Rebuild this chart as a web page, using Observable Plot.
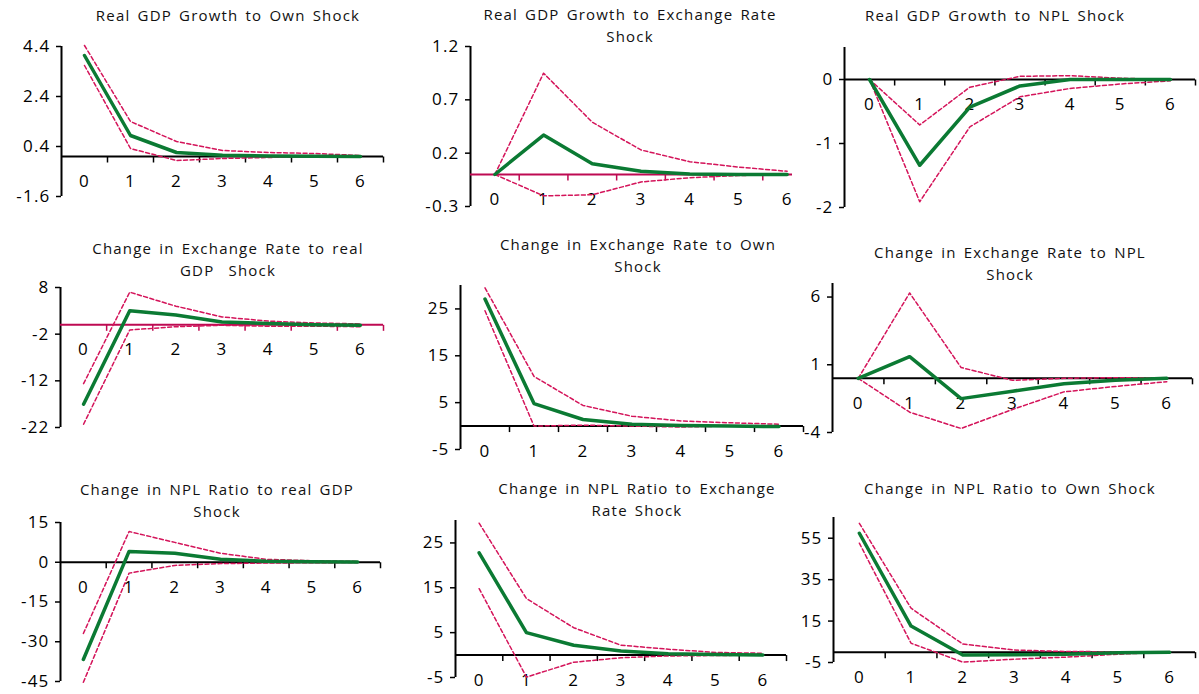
<!DOCTYPE html>
<html>
<head>
<meta charset="utf-8">
<script src="https://cdn.jsdelivr.net/npm/d3@7"></script>
<script src="https://cdn.jsdelivr.net/npm/@observablehq/plot@0.6"></script>
<style>
  html, body { margin: 0; padding: 0; background: #fff; }
  #root { position: relative; width: 1199px; height: 694px; overflow: hidden; background: #fff; font-family: "Open Sans", sans-serif; }
  .title { position: absolute; z-index: 5; text-align: center; font-size: 15px; line-height: 22px; color: #111; white-space: pre; letter-spacing: 1.2px; word-spacing: 2px; }
  .panel { position: absolute; overflow: hidden; z-index: 1; }
  .panel svg { max-width: none !important; overflow: visible; background: transparent; }
  .panel text { letter-spacing: 1.2px; }
  .panel g[aria-label*="y-axis"] path, .panel g[aria-label*="y-axis"] line { stroke-width: 1.5; }
</style>
</head>
<body>
<div id="root"></div>
<script>
// ---------- data ----------
const horizons = [0, 1, 2, 3, 4, 5, 6];
const xTickLabels = ["0", "1", "2", "3", "4", "5", "6"];

const titles = [
  "Real GDP Growth to Own Shock",
  "Real GDP Growth to Exchange Rate\nShock",
  "Real GDP Growth to NPL Shock",
  "Change in Exchange Rate to real\nGDP  Shock",
  "Change in Exchange Rate to Own\nShock",
  "Change in Exchange Rate to NPL\nShock",
  "Change in NPL Ratio to real GDP\nShock",
  "Change in NPL Ratio to Exchange\nRate Shock",
  "Change in NPL Ratio to Own Shock"
];

// y-axis domains and tick values per panel
const yDomains = [[-1.6, 4.4], [-0.3, 1.2], [-2, 0.5], [-22, 8], [-5, 30], [-4, 7], [-45, 15], [-5, 30], [-5, 65]];
const yTicks = [[4.4, 2.4, 0.4, -1.6], [1.2, 0.7, 0.2, -0.3], [0, -1, -2], [8, -2, -12, -22], [25, 15, 5, -5], [6, 1, -4], [15, 0, -15, -30, -45], [25, 15, 5, -5], [55, 35, 15, -5]];

// impulse responses (green), upper and lower bands (dashed)
const gdpOwn     = [4.04, 0.84, 0.16, 0.05, 0.02, 0.01, 0.0];
const gdpOwnHi   = [4.44, 1.40, 0.60, 0.24, 0.16, 0.12, 0.04];
const gdpOwnLo   = [3.64, 0.32, -0.16, -0.08, -0.04, 0.0, 0.0];

const gdpFx      = [0, 0.37, 0.10, 0.03, 0.005, 0.0, 0.0];
const gdpFxHi    = [0, 0.95, 0.49, 0.23, 0.12, 0.07, 0.03];
const gdpFxLo    = [0, -0.20, -0.19, -0.07, -0.03, -0.01, 0.0];

const gdpNpl     = [0, -1.34, -0.43, -0.10, 0.0, 0.0, 0.0];
const gdpNplHi   = [0, -0.71, -0.12, 0.05, 0.06, 0.02, 0.0];
const gdpNplLo   = [0, -1.91, -0.74, -0.27, -0.14, -0.07, -0.02];

const fxGdp      = [-17.0, 3.0, 2.1, 0.6, 0.3, 0.0, -0.1];
const fxGdpHi    = [-12.6, 7.0, 4.0, 1.7, 0.8, 0.4, 0.2];
const fxGdpLo    = [-21.3, -1.1, -0.4, -0.1, -0.3, -0.3, -0.4];

const fxOwn      = [27.1, 4.8, 1.4, 0.4, 0.1, 0.0, -0.1];
const fxOwnHi    = [29.5, 10.6, 4.4, 2.1, 1.1, 0.7, 0.4];
const fxOwnLo    = [24.6, 0.0, 0.2, 0.0, -0.2, 0.0, 0.0];

const fxNpl      = [0, 1.6, -1.5, -0.95, -0.4, -0.15, 0.0];
const fxNplHi    = [0, 6.3, 0.8, -0.15, 0.0, 0.05, 0.05];
const fxNplLo    = [0, -2.5, -3.7, -2.3, -1.0, -0.6, -0.25];

const nplGdp     = [-36.7, 4.1, 3.4, 1.1, 0.4, 0.2, 0.1];
const nplGdpHi   = [-26.9, 11.6, 7.5, 3.4, 1.1, 0.6, 0.3];
const nplGdpLo   = [-45.3, -4.1, -1.2, -0.5, -0.3, -0.2, -0.1];

const nplFx      = [22.8, 5.0, 2.2, 0.9, 0.3, 0.1, 0.0];
const nplFxHi    = [29.4, 12.6, 6.1, 2.2, 1.3, 0.6, 0.4];
const nplFxLo    = [14.8, -4.9, -1.6, -0.6, -0.2, -0.1, 0.0];

const nplOwn     = [57.4, 12.6, -1.4, -1.3, -1.0, -0.3, 0.0];
const nplOwnHi   = [62.2, 21.2, 3.9, 1.0, 0.3, 0.2, 0.1];
const nplOwnLo   = [52.6, 4.3, -4.8, -3.4, -2.4, -1.0, 0.0];

const responses = [gdpOwn, gdpFx, gdpNpl, fxGdp, fxOwn, fxNpl, nplGdp, nplFx, nplOwn];
const uppers    = [gdpOwnHi, gdpFxHi, gdpNplHi, fxGdpHi, fxOwnHi, fxNplHi, nplGdpHi, nplFxHi, nplOwnHi];
const lowers    = [gdpOwnLo, gdpFxLo, gdpNplLo, fxGdpLo, fxOwnLo, fxNplLo, nplGdpLo, nplFxLo, nplOwnLo];

// ---------- layout & style (pixels) ----------
const frames = [
  {l: 61,  r: 383,  t: 46,  b: 196, clip: 1199, tx: 228,  ty: 15},
  {l: 470, r: 811,  t: 46,  b: 206, clip: 792,  tx: 630,  ty: 14},
  {l: 844, r: 1195, t: 47,  b: 207, clip: 1199, tx: 995,  ty: 15},
  {l: 60,  r: 383,  t: 287, b: 427, clip: 1199, tx: 228,  ty: 248},
  {l: 460, r: 803,  t: 285, b: 449, clip: 1199, tx: 638,  ty: 244},
  {l: 832, r: 1192, t: 283, b: 432, clip: 1199, tx: 1010, ty: 252},
  {l: 60,  r: 380,  t: 522, b: 681, clip: 1199, tx: 217,  ty: 489},
  {l: 455, r: 786,  t: 520, b: 677, clip: 1199, tx: 637,  ty: 488},
  {l: 833, r: 1195, t: 517, b: 662, clip: 1199, tx: 1010, ty: 488}
];
const crimsonAxisPanels = [1, 3];
const GREEN = "#0b7a33";
const DASH = "#d4145a";
const CRIMSON_AXIS = "#be0a52";

const tickDown = {
  draw(context, size) {
    const l = Math.sqrt(size / Math.PI);
    context.moveTo(0, 0);
    context.lineTo(0, l);
  }
};

const root = document.getElementById("root");
const mL = 60, mR = 12, mT = 12, mB = 34;
const boundaries = [0.5, 1.5, 2.5, 3.5, 4.5, 5.5, 6.5];

frames.forEach((f, i) => {
  const t = document.createElement("div");
  t.className = "title";
  t.textContent = titles[i];
  t.style.left = (f.tx - 200) + "px";
  t.style.width = "400px";
  t.style.top = (f.ty - 11) + "px";
  root.appendChild(t);

  const rows = (arr) => horizons.map((h, k) => ({h, v: arr[k]}));
  const axisColor = crimsonAxisPanels.includes(i) ? CRIMSON_AXIS : "black";
  const width = f.r - f.l + mL + mR;
  const height = f.b - f.t + mT + mB;
  const fmt = (d) => String(d);

  const chart = Plot.plot({
    width, height,
    marginLeft: mL, marginRight: mR, marginTop: mT, marginBottom: mB,
    style: {fontFamily: "Open Sans, sans-serif", fontSize: "17px", color: "black", background: "transparent", overflow: "visible"},
    x: {domain: [-0.5, 6.5], axis: null},
    y: {domain: yDomains[i], ticks: yTicks[i], tickFormat: fmt, tickSize: 5, tickPadding: 6, label: null},
    marks: [
      Plot.ruleX([-0.5], {stroke: "black", strokeWidth: 2}),
      Plot.ruleY([0], {stroke: axisColor, strokeWidth: 2}),
      Plot.dot(boundaries, {x: (d) => d, y: () => 0, symbol: tickDown, r: 6, fill: "none", stroke: axisColor, strokeWidth: 1.5}),
      Plot.text(horizons, {x: (d) => d, y: () => 0, text: (d, k) => xTickLabels[k], dy: 25, fontSize: 17, fill: "black"}),
      Plot.line(rows(uppers[i]), {x: "h", y: "v", stroke: DASH, strokeWidth: 1.5, strokeDasharray: "4,2.5"}),
      Plot.line(rows(lowers[i]), {x: "h", y: "v", stroke: DASH, strokeWidth: 1.5, strokeDasharray: "4,2.5"}),
      Plot.line(rows(responses[i]), {x: "h", y: "v", stroke: GREEN, strokeWidth: 3.5})
    ]
  });

  const wrap = document.createElement("div");
  wrap.className = "panel";
  const left = f.l - mL;
  wrap.style.left = left + "px";
  wrap.style.top = (f.t - mT) + "px";
  wrap.style.width = Math.min(width, f.clip - left) + "px";
  wrap.style.height = height + "px";
  wrap.appendChild(chart);
  root.appendChild(wrap);
});
</script>
</body>
</html>
